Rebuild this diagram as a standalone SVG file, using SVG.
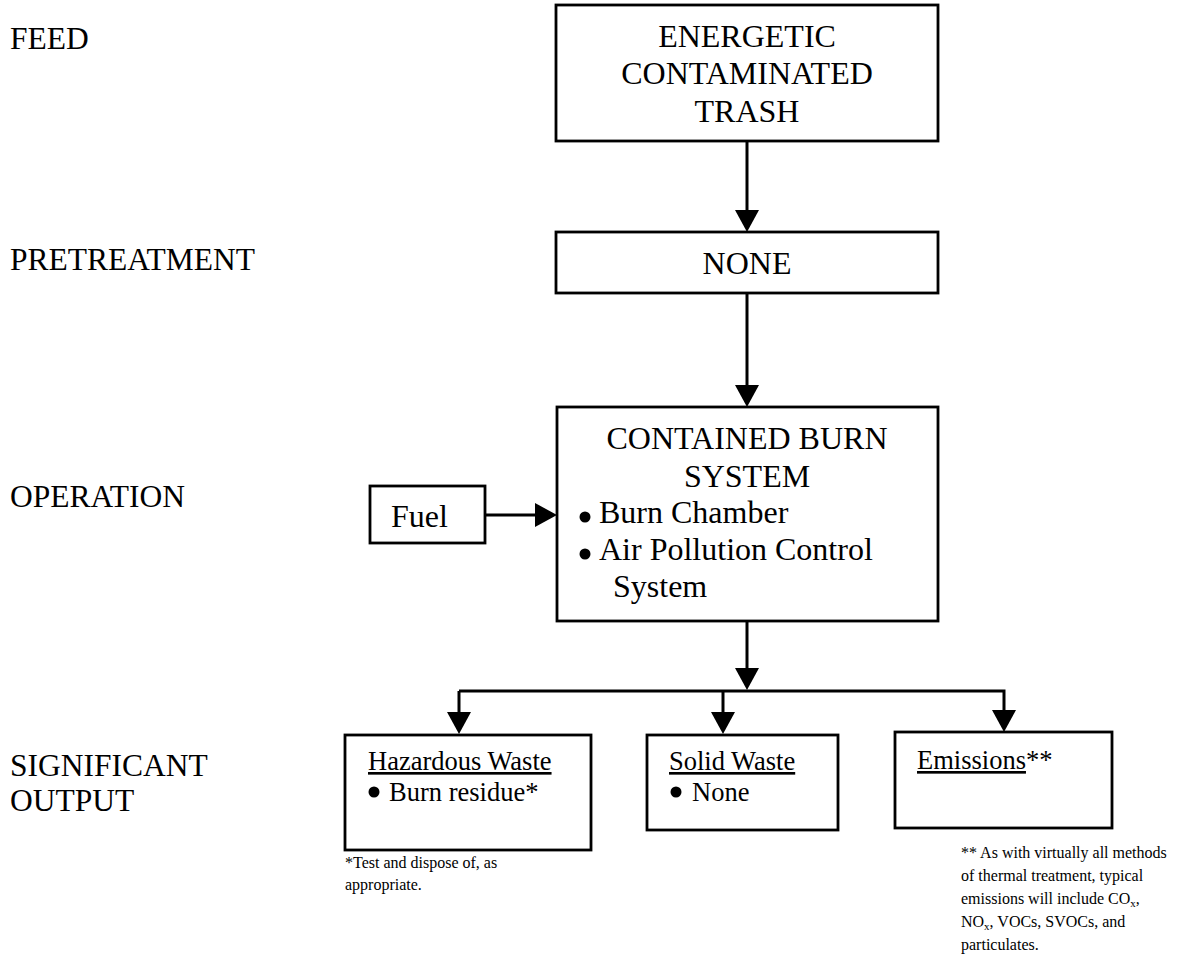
<svg xmlns="http://www.w3.org/2000/svg" width="1177" height="966" viewBox="0 0 1177 966">
  <style>
    .bg { fill: #ffffff; }
    .box { fill: #ffffff; stroke: #000000; stroke-width: 2.8; }
    .t { font-family: "Liberation Serif", "Times New Roman", serif; fill: #000000; }
    .lbl { font-size: 31.5px; }
    .big { font-size: 32px; }
    .mid { font-size: 26.5px; }
    .note { font-size: 16px; }
    .c { text-anchor: middle; }
    .u { text-decoration: underline; }
    .dot { fill: #000000; }
    .wire { fill: none; stroke: #000000; stroke-width: 3; }
  </style>
  <defs>
    <marker id="head" markerUnits="userSpaceOnUse" markerWidth="24" markerHeight="24" viewBox="0 0 22 24" refX="12" refY="12" orient="auto">
      <path d="M0,0 L22,12 L0,24 Z" fill="#000000"/>
    </marker>
  </defs>

  <rect class="bg" x="0" y="0" width="1177" height="966"/>

  <!-- stage labels -->
  <g id="stage-labels" class="t lbl">
    <text x="10" y="49">FEED</text>
    <text x="10" y="270">PRETREATMENT</text>
    <text x="10" y="507">OPERATION</text>
    <text x="10" y="776">SIGNIFICANT</text>
    <text x="10" y="811">OUTPUT</text>
  </g>

  <!-- connectors -->
  <g id="connectors" class="wire">
    <line x1="747" y1="141" x2="747" y2="222" marker-end="url(#head)"/>
    <line x1="747" y1="293" x2="747" y2="397" marker-end="url(#head)"/>
    <line x1="485" y1="515" x2="547" y2="515" marker-end="url(#head)"/>
    <line x1="747" y1="621" x2="747" y2="680" marker-end="url(#head)"/>
    <polyline points="459,691 1004,691 1004,722" marker-end="url(#head)"/>
    <line x1="459" y1="691" x2="459" y2="724" marker-end="url(#head)"/>
    <line x1="723" y1="691" x2="723" y2="724" marker-end="url(#head)"/>
  </g>

  <!-- feed -->
  <g id="feed">
    <rect class="box" x="556" y="5" width="382" height="136"/>
    <text class="t big c" x="747" y="47">ENERGETIC</text>
    <text class="t big c" x="747" y="84">CONTAMINATED</text>
    <text class="t big c" x="747" y="122">TRASH</text>
  </g>

  <!-- pretreatment -->
  <g id="pretreatment">
    <rect class="box" x="556" y="232" width="382" height="61"/>
    <text class="t big c" x="747" y="274">NONE</text>
  </g>

  <!-- fuel input -->
  <g id="fuel">
    <rect class="box" x="370" y="486" width="115" height="57"/>
    <text class="t big" x="391" y="527">Fuel</text>
  </g>

  <!-- burn system -->
  <g id="burn-system">
    <rect class="box" x="557" y="407" width="381" height="214"/>
    <text class="t big c" x="747" y="449">CONTAINED BURN</text>
    <text class="t big c" x="747" y="487">SYSTEM</text>
    <circle class="dot" cx="585" cy="517" r="5.5"/>
    <text class="t big" x="599" y="523">Burn Chamber</text>
    <circle class="dot" cx="585" cy="554" r="5.5"/>
    <text class="t big" x="599" y="560">Air Pollution Control</text>
    <text class="t big" x="613" y="597">System</text>
  </g>

  <!-- outputs -->
  <g id="hazardous-waste">
    <rect class="box" x="345" y="735" width="246" height="115"/>
    <text class="t mid" x="368" y="770"><tspan class="u">Hazardous Waste</tspan></text>
    <circle class="dot" cx="374" cy="792" r="5.5"/>
    <text class="t mid" x="389" y="801">Burn residue*</text>
    <text class="t note" x="345" y="868">*Test and dispose of, as</text>
    <text class="t note" x="345" y="890">appropriate.</text>
  </g>

  <g id="solid-waste">
    <rect class="box" x="647" y="735" width="191" height="95"/>
    <text class="t mid" x="669" y="770"><tspan class="u">Solid Waste</tspan></text>
    <circle class="dot" cx="676" cy="792" r="5.5"/>
    <text class="t mid" x="692" y="801">None</text>
  </g>

  <g id="emissions">
    <rect class="box" x="895" y="732" width="217" height="96"/>
    <text class="t mid" x="917" y="769"><tspan class="u">Emissions</tspan>**</text>
    <text class="t note" x="961" y="858">** As with virtually all methods</text>
    <text class="t note" x="961" y="881">of thermal treatment, typical</text>
    <text class="t note" x="961" y="904">emissions will include CO<tspan font-size="11" dy="3">x</tspan><tspan dy="-3">,</tspan></text>
    <text class="t note" x="961" y="927">NO<tspan font-size="11" dy="3">x</tspan><tspan dy="-3">, VOCs, SVOCs, and</tspan></text>
    <text class="t note" x="961" y="950">particulates.</text>
  </g>
</svg>
